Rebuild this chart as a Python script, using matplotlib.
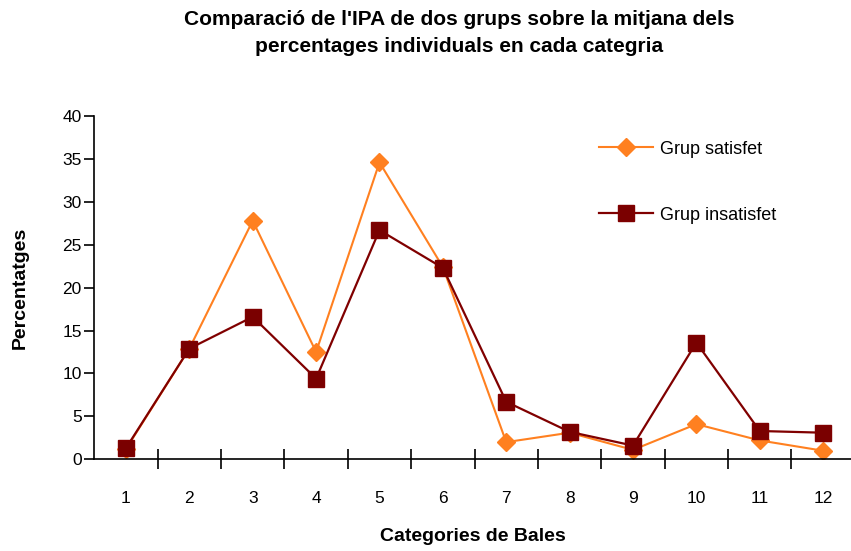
import matplotlib
matplotlib.use("Agg")
import matplotlib.pyplot as plt

categories = [1, 2, 3, 4, 5, 6, 7, 8, 9, 10, 11, 12]
satisfet = [1.2, 12.9, 27.8, 12.5, 34.6, 22.4, 2.0, 3.1, 1.1, 4.1, 2.2, 1.0]
insatisfet = [1.3, 12.9, 16.6, 9.4, 26.7, 22.3, 6.7, 3.2, 1.6, 13.6, 3.3, 3.1]

plt.rcParams['font.family'] = ['Liberation Sans Narrow', 'Liberation Sans', 'DejaVu Sans']

fig = plt.figure(figsize=(8.51, 5.51), dpi=100)
ax = fig.add_axes([0.1108, 0.1664, 0.8892, 0.6231])

ax.plot(categories, satisfet, color='#FF8020', linewidth=1.5, marker='D',
        markersize=9.5, markerfacecolor='#FF8020', markeredgecolor='#FF8020',
        label='Grup satisfet')
ax.plot(categories, insatisfet, color='#800000', linewidth=1.6, marker='s',
        markersize=12, markerfacecolor='#7A0000', markeredgecolor='#800000',
        label='Grup insatisfet')

ax.set_xlim(0.5, 12.44)
ax.set_ylim(0, 40)
ax.set_yticks(range(0, 41, 5))
ax.set_xticks(categories)
ax.set_xticks([c + 0.5 for c in categories[:-1]], minor=True)
ax.tick_params(axis='x', which='major', length=0, pad=23, labelsize=12.5)
ax.tick_params(axis='x', which='minor', direction='inout', length=14, width=1.2)
ax.tick_params(axis='y', direction='out', length=7, width=1.2, labelsize=12.5, pad=2)

for s in ['top', 'right']:
    ax.spines[s].set_visible(False)
for s in ['left', 'bottom']:
    ax.spines[s].set_linewidth(1.2)

ax.set_xlabel('Categories de Bales', fontsize=14, fontweight='bold', labelpad=16)
ax.set_ylabel('Percentatges', fontsize=14, fontweight='bold')
ax.yaxis.set_label_coords(-0.087, 0.5)

fig.text(0.54, 0.94, "Comparació de l'IPA de dos grups sobre la mitjana dels\npercentages individuals en cada categria",
         ha='center', va='center', fontsize=15, fontweight='bold', linespacing=1.55)

ax.legend(loc='upper left', bbox_to_anchor=(0.645, 0.975), frameon=False,
          fontsize=13, labelspacing=2.7, handlelength=3.0, handletextpad=0.4)

fig.savefig('out.png', dpi=100)
